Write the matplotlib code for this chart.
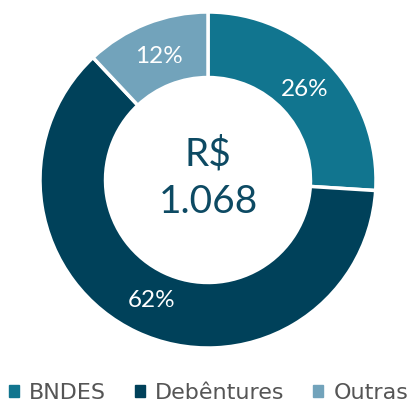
import matplotlib
matplotlib.use("Agg")
import matplotlib.pyplot as plt
from matplotlib.patches import Rectangle

labels = ["BNDES", "Debêntures", "Outras"]
shares = [26, 62, 12]
colors = ["#11758f", "#00415a", "#72a3bb"]
total = "R$\n1.068"

plt.rcParams["font.family"] = ["Lato", "DejaVu Sans"]

fig = plt.figure(figsize=(4.16, 4.07), dpi=100)
ax = fig.add_axes([40 / 416, 59 / 407, 336 / 416, 336 / 407])

wedges, texts, autotexts = ax.pie(
    shares, colors=colors, startangle=90, counterclock=False,
    radius=1.0, autopct="%d%%", pctdistance=0.79,
    wedgeprops=dict(width=0.39, edgecolor="white", linewidth=2.5),
    textprops=dict(color="white", fontsize=17.5))
ax.set_xlim(-1, 1)
ax.set_ylim(-1, 1)
ax.set_aspect("equal")

ax.text(0, 0.01, total, ha="center", va="center", fontsize=28,
        color="#0d4a63", linespacing=1.4)

handles = [Rectangle((0, 0), 1, 1, color=c) for c in colors]
fig.legend(handles, labels, loc="center left", bbox_to_anchor=(0.022, 14 / 407),
           ncol=3, frameon=False, prop=dict(family="DejaVu Sans", size=16),
           handlelength=0.45, handleheight=0.45,
           handletextpad=0.45, columnspacing=1.3, labelcolor="#555555",
           borderpad=0, borderaxespad=0)

fig.savefig("out.png", dpi=100)
